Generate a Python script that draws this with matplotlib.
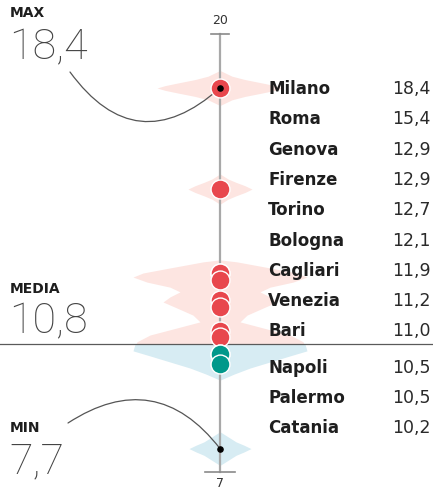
import numpy as np
import matplotlib.pyplot as plt

# ── data ────────────────────────────────────────────────────────────────────
cities = ["Milano", "Roma", "Genova", "Firenze", "Torino", "Bologna",
          "Cagliari", "Venezia", "Bari", "Napoli", "Palermo", "Catania"]
values = [18.4, 15.4, 12.9, 12.9, 12.7, 12.1, 11.9, 11.2, 11.0, 10.5, 10.5, 10.2]
v_max, v_mean, v_min = 18.4, 10.8, 7.7
axis_lo, axis_hi = 7, 20

# distribution outline (value, half width)
milano_v = [18.92, 18.75, 18.65, 18.55, 18.47, 18.4,
            18.33, 18.25, 18.15, 18.05, 17.88]
milano_w = [0, 12, 25, 42, 55, 63, 55, 42, 25, 12, 0]
roma_v = [15.85, 15.7, 15.6, 15.5, 15.4, 15.3, 15.2, 15.1, 14.95]
roma_w = [0, 8, 16, 25, 32, 25, 16, 8, 0]
mid_v = [13.3, 13.24, 13.06, 12.91, 12.79, 12.64, 12.49, 12.35, 12.2,
         12.05, 11.87, 11.66, 11.46, 11.28, 11.07, 10.87, 10.8]
mid_w = [0, 17, 50, 77, 87, 73, 50, 40, 50, 57, 43, 27, 20, 43, 70, 83, 84]
low_v = [10.8, 10.6, 10.45, 10.27, 10.09, 9.91, 9.73]
low_w = [85, 87, 70, 50, 30, 14, 0]
min_v = [8.2, 8.05, 7.9, 7.8, 7.7, 7.6, 7.5, 7.35, 7.2]
min_w = [0, 8, 16, 24, 31, 24, 16, 8, 0]

RED = "#e8474d"
TEAL = "#00988a"
PINK = "#fde5e1"
BLUE = "#d7ecf3"
INK = "#1e1e1e"

W, H = 433, 496
fig = plt.figure(figsize=(W / 100, H / 100), dpi=100, facecolor="white")
ax = fig.add_axes([0, 0, 1, 1])
ax.set_xlim(-220, W - 220)
ax.set_ylim(6.293, 21.011)
ax.axis("off")


def fy(y_px):
    # figure fraction from a pixel row counted from the top
    return 1 - y_px / H


def fx(x_px):
    return x_px / W


# ── violins ────────────────────────────────────────────────────────────────
for vv, ww, col in [(milano_v, milano_w, PINK), (roma_v, roma_w, PINK),
                    (mid_v, mid_w, PINK), (low_v, low_w, BLUE),
                    (min_v, min_w, BLUE)]:
    vv = np.array(vv)
    ww = np.array(ww)
    ax.fill_betweenx(vv, -ww, ww, color=col, lw=0, zorder=1)

# ── axis line and ticks ────────────────────────────────────────────────────
ax.plot([0, 0], [axis_lo, axis_hi], color="#a8a8a8", lw=1.6, zorder=2)
ax.plot([-9, 9], [axis_hi, axis_hi], color="#8a8a8a", lw=1.2, zorder=2)
ax.plot([-15, 15], [axis_lo, axis_lo], color="#8a8a8a", lw=1.2, zorder=2)
ax.text(0, axis_hi + 0.2, str(axis_hi), ha="center", va="bottom",
        fontsize=9, color="#333333")
ax.text(0, axis_lo - 0.15, str(axis_lo), ha="center", va="top",
        fontsize=9, color="#333333")

# mean line
ax.axhline(v_mean, color="#5a5a5a", lw=0.9, zorder=3)

# ── dots ───────────────────────────────────────────────────────────────────
for i, v in enumerate(values):
    col = RED if v > v_mean else TEAL
    ax.scatter(0, v, s=185, color=col, edgecolor="white", linewidth=1.0,
               zorder=4 + i)
ax.scatter([0, 0], [v_max, v_min], s=14, color="black", zorder=30)

# ── right-hand table ───────────────────────────────────────────────────────
row_y = 88
for i, (c, v) in enumerate(zip(cities, values)):
    if i == 9:
        row_y += 6
    fig.text(fx(268), fy(row_y + 6), c, ha="left", va="baseline",
             fontsize=12, fontweight="bold", color=INK)
    fig.text(fx(431), fy(row_y + 6), f"{v:.1f}".replace(".", ","),
             ha="right", va="baseline", fontsize=12.5, color="#2a2a2a")
    row_y += 30.3

# ── left labels ────────────────────────────────────────────────────────────
for lab, v, y_lab, y_num in [("MAX", v_max, 17, 59), ("MEDIA", v_mean, 293, 333),
                             ("MIN", v_min, 432, 473)]:
    fig.text(fx(10), fy(y_lab), lab, ha="left", va="baseline", fontsize=10,
             fontweight="bold", color=INK)
    fig.text(fx(9), fy(y_num), f"{v:.1f}".replace(".", ","), ha="left",
             va="baseline", fontsize=31, fontweight="light",
             color="#444444", family="Roboto")

# connector arcs
ax.annotate("", xy=(0, v_max), xycoords="data",
            xytext=(70, H - 72), textcoords="figure pixels",
            arrowprops=dict(arrowstyle="-", color="#555555", lw=0.9,
                            shrinkA=0, shrinkB=0,
                            connectionstyle="arc3,rad=0.55"))
ax.annotate("", xy=(0, v_min), xycoords="data",
            xytext=(68, H - 423), textcoords="figure pixels",
            arrowprops=dict(arrowstyle="-", color="#555555", lw=0.9,
                            shrinkA=0, shrinkB=0,
                            connectionstyle="arc3,rad=-0.46"))

fig.savefig("out.png", dpi=100)
